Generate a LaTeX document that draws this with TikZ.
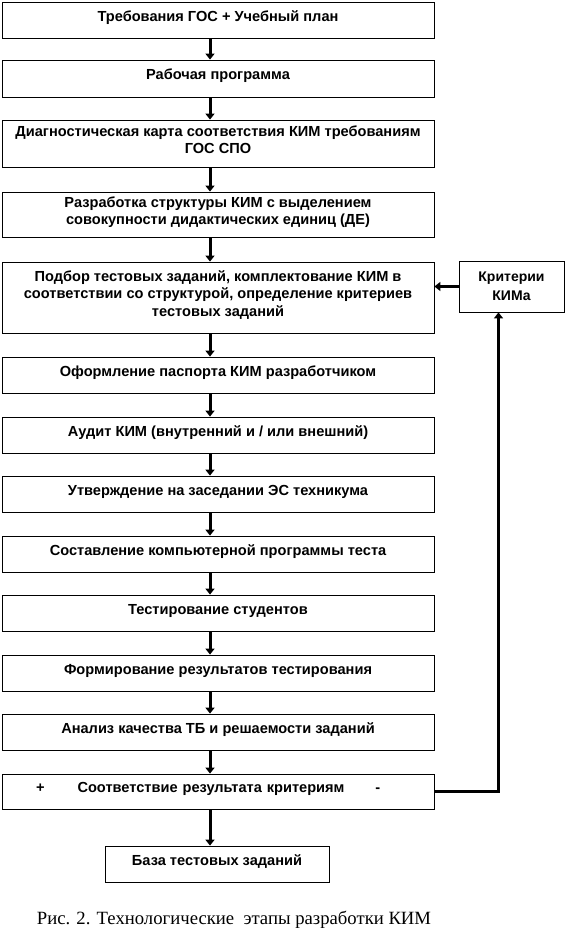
\documentclass[tikz,border=0pt]{standalone}
\usepackage{fontspec}
\setmainfont{Liberation Serif}
\newfontfamily\arialfont{Liberation Sans}
\usetikzlibrary{arrows.meta,positioning}

\begin{document}
\begin{tikzpicture}[
  x=1pt,y=-1pt,
  font=\arialfont\bfseries\fontsize{14.6}{17.5}\selectfont,
  box/.style={draw,line width=0.8pt,minimum width=432,align=center,inner sep=2pt,
    execute at end node={\rule[-8pt]{0pt}{0pt}}},
  critbox/.style={draw,line width=0.8pt,align=center,inner sep=2pt,
    font=\arialfont\bfseries\fontsize{14}{19}\selectfont},
  arr/.style={-{Triangle[width=9pt,length=6pt]},line width=3pt},
]
\useasboundingbox (0,0) rectangle (565,941);

% основная цепочка
\node[box,minimum height=36] (gos)    at (218,20)    {Требования ГОС + Учебный план};
\node[box,minimum height=37] (prog)   at (218,78.5)  {Рабочая программа};
\node[box,minimum height=47] (diag)   at (218,143.5) {Диагностическая карта соответствия КИМ требованиям\\ГОС СПО};
\node[box,minimum height=45] (struct) at (218,214.5) {Разработка структуры КИМ с выделением\\совокупности дидактических единиц (ДЕ)};
\node[box,minimum height=71] (podbor) at (218,297.5) {Подбор тестовых заданий, комплектование КИМ в\\соответствии со структурой, определение критериев\\тестовых заданий};
\node[box,minimum height=36] (pasp)   at (218,375)   {Оформление паспорта КИМ разработчиком};
\node[box,minimum height=36] (audit)  at (218,435)   {Аудит КИМ (внутренний и / или внешний)};
\node[box,minimum height=36] (utv)    at (218,494)   {Утверждение на заседании ЭС техникума};
\node[box,minimum height=36] (komp)   at (218,554)   {Составление компьютерной программы теста};
\node[box,minimum height=36] (test)   at (218,613)   {Тестирование студентов};
\node[box,minimum height=36] (form)   at (218,673)   {Формирование результатов тестирования};
\node[box,minimum height=36] (anal)   at (218,732)   {Анализ качества ТБ и решаемости заданий};
\node[box,minimum height=35,text width=424,align=left] (sootv) at (218,791.5)
  {\hspace*{30pt}+\hspace{33pt}Соответствие результата критериям\hspace{31pt}-};
\node[box,minimum width=224,minimum height=36] (baza) at (217,864) {База тестовых заданий};

% критерии
\node[critbox,minimum width=105,minimum height=51] (krit) at (511.5,286.5) {Критерии\\КИМа};

% подпись
\node[font=\fontsize{18.7}{21}\selectfont] (cap) at (234,920) {Рис. 2. Технологические\ \ этапы разработки КИМ};

% стрелки
\draw[arr] ([xshift=-8]gos.south)    -- ([xshift=-8]prog.north);
\draw[arr] ([xshift=-8]prog.south)   -- ([xshift=-8]diag.north);
\draw[arr] ([xshift=-8]diag.south)   -- ([xshift=-8]struct.north);
\draw[arr] ([xshift=-8]struct.south) -- ([xshift=-8]podbor.north);
\draw[arr] ([xshift=-8]podbor.south) -- ([xshift=-8]pasp.north);
\draw[arr] ([xshift=-8]pasp.south)   -- ([xshift=-8]audit.north);
\draw[arr] ([xshift=-8]audit.south)  -- ([xshift=-8]utv.north);
\draw[arr] ([xshift=-8]utv.south)    -- ([xshift=-8]komp.north);
\draw[arr] ([xshift=-8]komp.south)   -- ([xshift=-8]test.north);
\draw[arr] ([xshift=-8]test.south)   -- ([xshift=-8]form.north);
\draw[arr] ([xshift=-8]form.south)   -- ([xshift=-8]anal.north);
\draw[arr] ([xshift=-8]anal.south)   -- ([xshift=-8]sootv.north);
\draw[arr] ([xshift=-8]sootv.south)  -- ([xshift=-7]baza.north);
\draw[arr] (krit.west) -- (krit.west -| podbor.east);
\draw[arr] (sootv.east) -| ([xshift=-13]krit.south);

\end{tikzpicture}
\end{document}
